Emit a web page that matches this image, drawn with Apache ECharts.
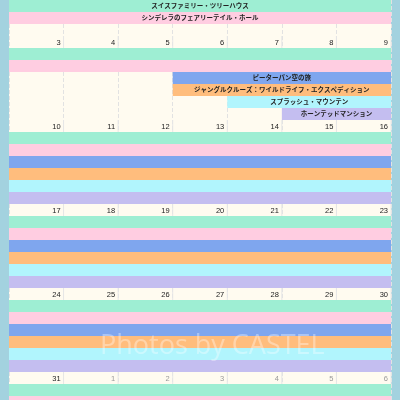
<!DOCTYPE html>
<html><head><meta charset="utf-8">
<script src="https://cdn.jsdelivr.net/npm/echarts@6/dist/echarts.min.js"></script>
<style>html,body{margin:0;padding:0;background:#a3d2df;}#c{width:400px;height:400px;}</style>
</head><body><div id="c"></div>
<script>
// Week date labels (7 columns each)
const weekDates = [
  ['3','4','5','6','7','8','9'],
  ['10','11','12','13','14','15','16'],
  ['17','18','19','20','21','22','23'],
  ['24','25','26','27','28','29','30'],
  ['31','1','2','3','4','5','6']
];
const nextMonthFrom = [7,7,7,7,1]; // column index from which dates belong to next month
// Events (one lane each)
const eventNames = ['スイスファミリー・ツリーハウス','シンデレラのフェアリーテイル・ホール','ピーターパン空の旅','ジャングルクルーズ：ワイルドライフ・エクスペディション','スプラッシュ・マウンテン','ホーンテッドマンション'];
const eventColors = ['#9eeed3','#ffcde1','#7fa6ee','#ffbd7d','#b1f5fd','#c4bef0'];
const eventStartCol = [0,0,3,3,4,5]; // start column in week of 3-9
const topVisibleLanes = 2; // lanes visible of preceding week

const slotsPerWeek = 7;
const bars = [], dates = [];
// preceding week (partial at top)
for (let l=0;l<topVisibleLanes;l++) bars.push([0,7,l,l,eventNames[l]]);
const base0 = 3;
weekDates.forEach((wd,w)=>{
  const base = base0 + w*slotsPerWeek;
  wd.forEach((d,c)=>dates.push([c,base,d,c>=nextMonthFrom[w]?1:0]));
  eventNames.forEach((n,l)=>{
    const s = base+1+l;
    if (s>34) return;
    const start = w===0?eventStartCol[l]:0;
    const label = (w===0 && l>=2)?n:'';
    bars.push([start,7,s,l,label]);
  });
});

const chart = echarts.init(document.getElementById('c'));
chart.setOption({
  backgroundColor:'#a3d2df',
  animation:false,
  grid:{left:9,right:9,top:0,bottom:0,show:true,backgroundColor:'#fffbf0',borderWidth:0},
  xAxis:{type:'value',min:0,max:7,interval:1,axisLabel:{show:false},axisLine:{show:false},axisTick:{show:false},
    splitLine:{show:true,lineStyle:{color:'#e2e2e2',type:'dashed',width:1}}},
  yAxis:{type:'value',min:0,max:400/12,inverse:true,show:false,splitLine:{show:false}},
  graphic:[{type:'text',left:100,top:333,z:100,style:{text:'Photos by CASTEL',fontSize:27,fontFamily:'Open Sans',fill:'rgba(255,255,255,0.35)'}}],
  series:[
    {type:'custom',data:dates,renderItem:(p,api)=>{
      const c=api.value(0),s=api.value(1);
      const tl=api.coord([c,s]),br=api.coord([c+1,s+1]);
      return {type:'group',children:[
        {type:'line',shape:{x1:br[0],y1:tl[1],x2:br[0],y2:br[1]},style:{stroke:'#e6e6e6',lineWidth:1}},
        {type:'text',style:{x:br[0]-3,y:(tl[1]+br[1])/2+0.5,text:dates[p.dataIndex][2],align:'right',verticalAlign:'middle',
        fontSize:7.5,fontFamily:'Liberation Sans',fill:api.value(3)?'#999':'#222'}}]};
    }},
    {type:'custom',data:bars,renderItem:(p,api)=>{
      const b=bars[p.dataIndex];
      const tl=api.coord([b[0],b[2]]),br=api.coord([b[1],b[2]+1]);
      const children=[{type:'rect',shape:{x:tl[0],y:tl[1],width:br[0]-tl[0],height:br[1]-tl[1]},style:{fill:eventColors[b[3]]}}];
      if(b[4]) children.push({type:'text',style:{x:(tl[0]+br[0])/2,y:(tl[1]+br[1])/2,text:b[4],align:'center',verticalAlign:'middle',fontSize:6.5,fontWeight:'bold',fontFamily:'Noto Sans CJK JP',fill:'#222'}});
      return {type:'group',children};
    }}
  ]
});
</script></body></html>
